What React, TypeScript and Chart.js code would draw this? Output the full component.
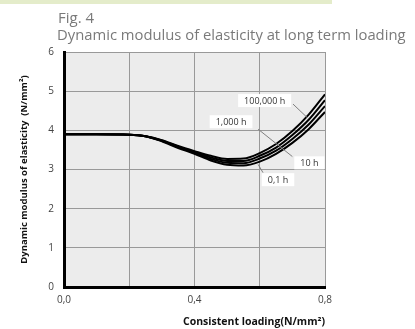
import React, { useEffect, useRef } from "react";
import { Chart, registerables } from "chart.js";

Chart.register(...registerables);

const loading = [0, 0.1, 0.2, 0.25, 0.3, 0.35, 0.4, 0.45, 0.5, 0.55, 0.6, 0.65, 0.7, 0.75, 0.8];
const modulus100000h = [3.9, 3.9, 3.89, 3.85, 3.75, 3.6, 3.47, 3.35, 3.27, 3.28, 3.42, 3.65, 3.98, 4.4, 4.92];
const modulus1000h = [3.9, 3.9, 3.89, 3.85, 3.74, 3.58, 3.44, 3.31, 3.22, 3.22, 3.35, 3.56, 3.88, 4.27, 4.77];
const modulus10h = [3.9, 3.9, 3.89, 3.85, 3.73, 3.57, 3.42, 3.27, 3.17, 3.16, 3.28, 3.48, 3.78, 4.15, 4.62];
const modulus01h = [3.9, 3.9, 3.89, 3.85, 3.72, 3.55, 3.4, 3.23, 3.12, 3.1, 3.2, 3.4, 3.68, 4.03, 4.47];

const seriesNames = ["100,000 h", "1,000 h", "10 h", "0,1 h"];
// label box centers (data units) and leader lines (data units)
const labelX = [0.615, 0.512, 0.752, 0.656];
const labelY = [4.76, 4.22, 3.17, 2.74];
const leaderFromX = [0.702, 0.595, null, 0.595];
const leaderFromY = [4.67, 4.03, null, 3.13];
const leaderToX = [0.745, 0.7, null, 0.61];
const leaderToY = [4.33, 3.33, null, 2.92];

const FONT = "'Open Sans', 'DejaVu Sans', sans-serif";

const decorPlugin = {
  id: "decor",
  beforeDraw(chart: any) {
    const { ctx, chartArea } = chart;
    ctx.save();
    ctx.fillStyle = "#e4ecca";
    ctx.fillRect(0, 0, 332, 4);
    ctx.fillStyle = "#ececec";
    ctx.fillRect(chartArea.left, chartArea.top, chartArea.right - chartArea.left, chartArea.bottom - chartArea.top);
    ctx.fillStyle = "#7a7a7a";
    ctx.textBaseline = "alphabetic";
    ctx.textAlign = "left";
    ctx.font = `15px ${FONT}`;
    ctx.fillText("Fig. 4", 58, 23);
    ctx.font = `14.8px ${FONT}`;
    ctx.fillText("Dynamic modulus of elasticity at long term loading", 57, 39.5);
    ctx.restore();
  },
  afterDatasetsDraw(chart: any) {
    const { ctx } = chart;
    const xs = chart.scales.x;
    const ys = chart.scales.y;
    ctx.save();
    ctx.strokeStyle = "#808080";
    ctx.lineWidth = 1;
    for (let i = 0; i < seriesNames.length; i++) {
      const fx = leaderFromX[i];
      if (fx === null) continue;
      ctx.beginPath();
      ctx.moveTo(xs.getPixelForValue(fx), ys.getPixelForValue(leaderFromY[i] as number));
      ctx.lineTo(xs.getPixelForValue(leaderToX[i] as number), ys.getPixelForValue(leaderToY[i] as number));
      ctx.stroke();
    }
    ctx.font = `9px ${FONT}`;
    ctx.textAlign = "center";
    ctx.textBaseline = "middle";
    for (let i = 0; i < seriesNames.length; i++) {
      const cx = xs.getPixelForValue(labelX[i]);
      const cy = ys.getPixelForValue(labelY[i]);
      const w = ctx.measureText(seriesNames[i]).width + 12;
      const h = 13;
      ctx.fillStyle = "#ffffff";
      ctx.fillRect(cx - w / 2, cy - h / 2, w, h);
      ctx.fillStyle = "#333333";
      ctx.fillText(seriesNames[i], cx, cy + 0.5);
    }
    ctx.restore();
  },
};

export default function App() {
  const ref = useRef<HTMLCanvasElement>(null);
  useEffect(() => {
    if (!ref.current) return;
    const mk = (label: string, data: number[]) => ({
      label,
      data: loading.map((x, i) => ({ x, y: data[i] })),
      borderColor: "#000000",
      borderWidth: 2,
      pointRadius: 0,
      tension: 0.4,
      cubicInterpolationMode: "monotone" as const,
      fill: false,
    });
    const chart = new Chart(ref.current, {
      type: "line",
      data: {
        datasets: [
          mk(seriesNames[0], modulus100000h),
          mk(seriesNames[1], modulus1000h),
          mk(seriesNames[2], modulus10h),
          mk(seriesNames[3], modulus01h),
        ],
      },
      options: {
        animation: false,
        responsive: false,
        maintainAspectRatio: false,
        layout: { padding: { top: 52, right: 90, bottom: 0, left: 0 } },
        plugins: { legend: { display: false }, tooltip: { enabled: false } },
        scales: {
          x: {
            type: "linear",
            min: 0,
            max: 0.8,
            afterFit(scale: any) {
              scale.height = 42;
            },
            ticks: {
              stepSize: 0.2,
              padding: 7,
              color: "#444444",
              font: { family: FONT, size: 10 },
              callback: (v: any, i: number) => (i % 2 === 0 ? Number(v).toFixed(1).replace(".", ",") : ""),
              maxRotation: 0,
            },
            grid: { color: "#999999", lineWidth: 1, drawTicks: false },
            border: { color: "#000000", width: 3 },
            title: {
              display: true,
              text: "Consistent loading(N/mm²)",
              align: "end",
              color: "#111111",
              font: { family: FONT, size: 10.5, weight: "bold" },
              padding: { top: 0, bottom: 1 },
            },
          },
          y: {
            min: 0,
            max: 6,
            afterFit(scale: any) {
              scale.width = 64;
            },
            ticks: {
              stepSize: 1,
              padding: 10,
              color: "#444444",
              font: { family: FONT, size: 10 },
            },
            grid: { color: "#999999", lineWidth: 1, drawTicks: false },
            border: { color: "#000000", width: 3 },
            title: {
              display: true,
              text: "Dynamic modulus of elasticity  (N/mm²)",
              color: "#111111",
              font: { family: FONT, size: 9.5, weight: "bold" },
              padding: { top: 19, bottom: 0 },
            },
          },
        },
      },
      plugins: [decorPlugin],
    });
    return () => chart.destroy();
  }, []);
  return (
    <div style={{ position: "absolute", left: 0, top: 0, width: 415, height: 329, background: "#ffffff" }}>
      <canvas ref={ref} width={415} height={329} style={{ display: "block" }} />
    </div>
  );
}
